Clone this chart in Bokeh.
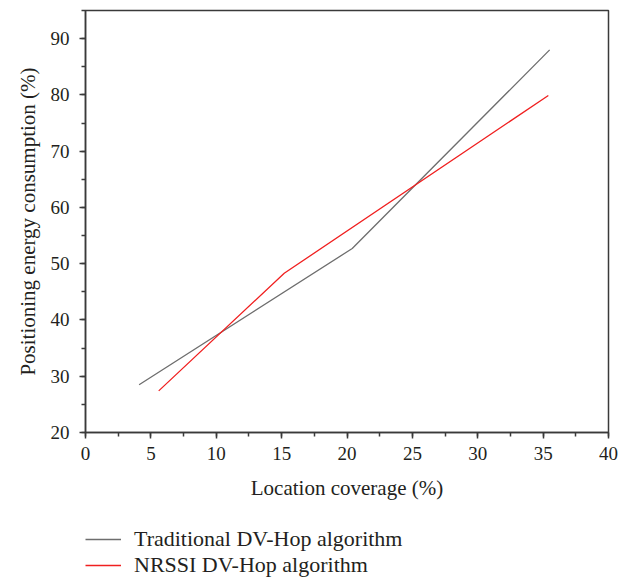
from bokeh.plotting import figure
from bokeh.models import Range1d, Legend, LegendItem, SingleIntervalTicker, LinearAxis
from bokeh.layouts import column
from bokeh.embed import file_html
from bokeh.resources import INLINE

trad_x = [4.1, 20.4, 35.5]
trad_y = [28.5, 52.7, 88.0]
nrssi_x = [5.6, 15.2, 35.4]
nrssi_y = [27.4, 48.3, 79.9]
series_names = ["Traditional DV-Hop algorithm", "NRSSI DV-Hop algorithm"]

FONT = "Liberation Serif"
AX = "#3a3a3a"
TXT = "#231f20"
GRAY = "#6e6e6e"
RED = "#f02020"

p = figure(width=633, height=510, output_backend="svg", toolbar_location=None,
           x_range=Range1d(0, 40), y_range=Range1d(20, 95),
           min_border_left=85, min_border_right=25, min_border_top=10, min_border_bottom=78,
           x_axis_location=None, y_axis_location=None)
p.grid.visible = False
p.outline_line_color = AX
p.outline_line_width = 1.5

xa = LinearAxis(ticker=SingleIntervalTicker(interval=5, num_minor_ticks=2))
ya = LinearAxis(ticker=SingleIntervalTicker(interval=10, num_minor_ticks=2))
for ax in (xa, ya):
    ax.axis_line_color = AX
    ax.axis_line_width = 1.5
    ax.major_tick_line_color = AX
    ax.minor_tick_line_color = AX
    ax.major_tick_line_width = 1.5
    ax.minor_tick_line_width = 1.5
    ax.major_tick_out = 6
    ax.major_tick_in = 0
    ax.minor_tick_out = 4
    ax.minor_tick_in = 0
    ax.major_label_text_font = FONT
    ax.major_label_text_font_size = "19px"
    ax.major_label_text_color = TXT
    ax.axis_label_text_font = FONT
    ax.axis_label_text_font_size = "21px"
    ax.axis_label_text_font_style = "normal"
    ax.axis_label_text_color = TXT
xa.axis_label = "Location coverage (%)"
ya.axis_label = "Positioning energy consumption (%)"
xa.major_label_standoff = 8
xa.axis_label_standoff = 13
ya.major_label_standoff = 10
ya.axis_label_standoff = 8
p.add_layout(xa, "below")
p.add_layout(ya, "left")

r1 = p.line(trad_x, trad_y, line_color=GRAY, line_width=1.3)
r2 = p.line(nrssi_x, nrssi_y, line_color=RED, line_width=1.3)

# legend panel below the chart (its own lines sit outside its visible ranges)
lg = figure(width=633, height=68, output_backend="svg", toolbar_location=None,
            x_range=Range1d(1000, 1001), y_range=Range1d(1000, 1001),
            min_border_left=0, min_border_right=0, min_border_top=0, min_border_bottom=0,
            x_axis_location=None, y_axis_location=None)
lg.grid.visible = False
lg.outline_line_color = None
l1 = lg.line(trad_x, trad_y, line_color=GRAY, line_width=1.3)
l2 = lg.line(nrssi_x, nrssi_y, line_color=RED, line_width=1.3)

legend = Legend(items=[LegendItem(label=series_names[0], renderers=[l1]),
                       LegendItem(label=series_names[1], renderers=[l2])],
                location=(0, 0), orientation="vertical")
legend.border_line_color = None
legend.background_fill_alpha = 0
legend.label_text_font = FONT
legend.label_text_font_size = "22px"
legend.label_text_color = TXT
legend.glyph_width = 36
legend.label_standoff = 13
legend.spacing = 0
legend.padding = 0
legend.margin = 0
legend.label_height = 22
legend.glyph_height = 22
lg.add_layout(legend, "center")

layout = column(p, lg, spacing=0)
open("out.html", "w").write(file_html(layout, INLINE))
